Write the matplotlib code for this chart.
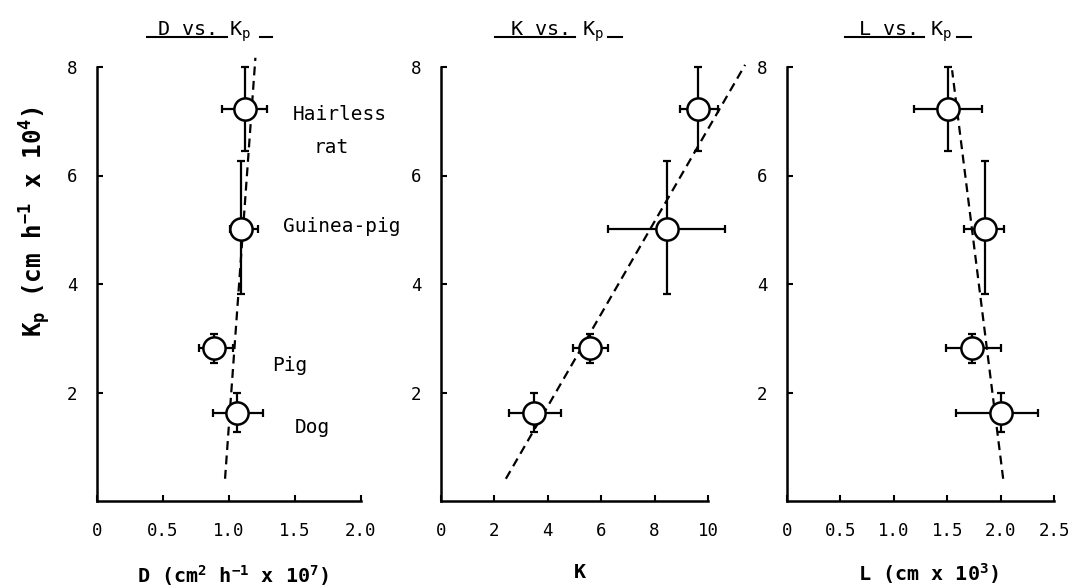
import numpy as np
import matplotlib as mpl
mpl.use("Agg")
import matplotlib.pyplot as plt

## Fonts ##
plt.rcParams["font.family"] = "DejaVu Sans Mono"
plt.rcParams["mathtext.fontset"] = "custom"
plt.rcParams["mathtext.rm"] = "DejaVu Sans Mono"
plt.rcParams["mathtext.it"] = "DejaVu Sans Mono"
plt.rcParams["mathtext.bf"] = "DejaVu Sans Mono:bold"

## Data (Dog, Pig, Guinea-pig, Hairless rat) ##
species = ["Dog", "Pig", "Guinea-pig", "Hairless rat"]
kp      = [1.62, 2.82, 5.02, 7.22]
kp_lo   = [1.27, 2.54, 3.81, 6.46]
kp_hi   = [1.99, 3.08, 6.27, 8.00]

D    = [1.06, 0.89, 1.09, 1.12]
D_lo = [0.88, 0.77, 1.01, 0.945]
D_hi = [1.26, 1.03, 1.22, 1.29]

K    = [3.48, 5.58, 8.46, 9.63]
K_lo = [2.55, 4.94, 6.25, 8.95]
K_hi = [4.49, 6.25, 10.64, 10.37]

L    = [2.00, 1.73, 1.85, 1.51]
L_lo = [1.58, 1.49, 1.66, 1.19]
L_hi = [2.35, 2.00, 2.03, 1.83]

## Regression lines (end points) ##
fit_D_x = [0.97, 1.20]
fit_D_y = [0.41, 8.17]
fit_K_x = [2.43, 11.39]
fit_K_y = [0.41, 8.04]
fit_L_x = [2.024, 1.546]
fit_L_y = [0.41, 7.94]

## Tick labels ##
D_ticks  = [0, 0.5, 1.0, 1.5, 2.0]
D_labels = ["0", "0.5", "1.0", "1.5", "2.0"]
K_ticks  = [0, 2, 4, 6, 8, 10]
K_labels = ["0", "2", "4", "6", "8", "10"]
L_ticks  = [0, 0.5, 1.0, 1.5, 2.0, 2.5]
L_labels = ["0", "0.5", "1.0", "1.5", "2.0", "2.5"]
kp_ticks = [2, 4, 6, 8]


def panel( fig , rect , x , x_lo , x_hi , fit_x , fit_y , xlim , ticks , labels , title , xlabel , title_pos ):
	ax = fig.add_axes(rect)
	x = np.asarray(x) ; y = np.asarray(kp)
	xerr = [ x - np.asarray(x_lo) , np.asarray(x_hi) - x ]
	yerr = [ y - np.asarray(kp_lo) , np.asarray(kp_hi) - y ]
	ax.plot( fit_x , fit_y , color = "black" , linestyle = (0,(4,2.5)) , linewidth = 1.6 , clip_on = False , zorder = 2 )
	ax.errorbar( x , y , xerr = xerr , yerr = yerr , fmt = "none" , ecolor = "black" , elinewidth = 1.6 , capsize = 3 , capthick = 1.6 , clip_on = False , zorder = 3 )
	ax.plot( x , y , linestyle = "" , marker = "o" , markersize = 16 , markerfacecolor = "white" , markeredgecolor = "black" , markeredgewidth = 1.8 , clip_on = False , zorder = 4 )
	
	ax.set_xlim(xlim)
	ax.set_ylim((0,8))
	for s in ["top","right"]:
		ax.spines[s].set_visible(False)
	for s in ["left","bottom"]:
		ax.spines[s].set_linewidth(1.8)
	ax.set_xticks(ticks)
	ax.set_xticklabels(labels)
	ax.set_yticks(kp_ticks)
	ax.tick_params( direction = "in" , length = 4 , width = 1.5 , labelsize = 12.5 )
	ax.tick_params( axis = "x" , pad = 15 )
	ax.tick_params( axis = "y" , pad = 14 )
	
	## underlined title
	x0, x1, xd0, xd1, xt = title_pos
	ax.text( xt , 1.072 , title , transform = ax.transAxes , fontsize = 14.5 , ha = "left" , va = "baseline" )
	ax.plot( [x0,x1] , [1.068,1.068] , color = "black" , linewidth = 1.5 , transform = ax.transAxes , clip_on = False )
	ax.plot( [xd0,xd1] , [1.068,1.068] , color = "black" , linewidth = 1.5 , transform = ax.transAxes , clip_on = False )
	
	ax.set_xlabel( xlabel , fontsize = 14.5 , fontweight = "bold" , va = "center" )
	return ax


fig = plt.figure( figsize = ( 10.75 , 5.86 ) , dpi = 100 )
W, H = 1075., 586.
bot = (H - 501) / H
hgt = 434 / H

ax1 = panel( fig , [97/W, bot, 264/W, hgt] , D , D_lo , D_hi , fit_D_x , fit_D_y , (0,2) , D_ticks , D_labels ,
	r"D vs. $K_p$" , r"D (cm$^\mathbf{2}$ h$^\mathbf{-1}$ x 10$^\mathbf{7}$)" , (0.189, 0.492, 0.617, 0.663, 0.227) )
ax2 = panel( fig , [441/W, bot, 267/W, hgt] , K , K_lo , K_hi , fit_K_x , fit_K_y , (0,10) , K_ticks , K_labels ,
	r"K vs. $K_p$" , "K" , (0.202, 0.502, 0.625, 0.678, 0.258) )
ax3 = panel( fig , [787/W, bot, 267/W, hgt] , L , L_lo , L_hi , fit_L_x , fit_L_y , (0,2.5) , L_ticks , L_labels ,
	r"L vs. $K_p$" , r"L (cm x 10$^\mathbf{3}$)" , (0.217, 0.513, 0.637, 0.689, 0.266) )

ax1.xaxis.set_label_coords( 0.515 , -0.172 )
ax2.xaxis.set_label_coords( 0.52 , -0.164 )
ax3.xaxis.set_label_coords( 0.528 , -0.168 )

ax1.set_ylabel( r"$\mathbf{K_p}$ (cm h$^\mathbf{-1}$ x 10$^\mathbf{4}$)" , fontsize = 17.5 , fontweight = "bold" , va = "center" )
ax1.yaxis.set_label_coords( -0.235 , 0.643 )

## species labels on the first panel
ax1.text( 1.485 , 7.02 , "Hairless" , fontsize = 14 , va = "baseline" , ha = "left" )
ax1.text( 1.77 , 6.41 , "rat" , fontsize = 14 , va = "baseline" , ha = "center" )
ax1.text( 1.41 , 4.96 , "Guinea-pig" , fontsize = 14 , va = "baseline" , ha = "left" , clip_on = False )
ax1.text( 1.33 , 2.39 , "Pig" , fontsize = 14 , va = "baseline" , ha = "left" )
ax1.text( 1.50 , 1.26 , "Dog" , fontsize = 14 , va = "baseline" , ha = "left" )

fig.savefig( "out.png" , dpi = 100 )
plt.close(fig)
